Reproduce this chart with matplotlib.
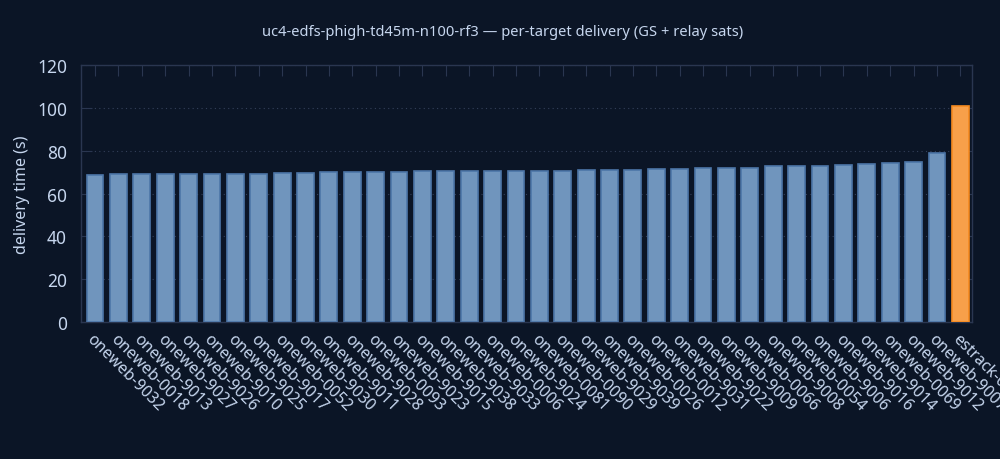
import numpy as np
import matplotlib
matplotlib.use("Agg")
import matplotlib.pyplot as plt

plt.rcParams['font.family'] = ['Noto Sans', 'DejaVu Sans']

# données
targets = ["oneweb-9032", "oneweb-0018", "oneweb-9013", "oneweb-9027", "oneweb-9026",
           "oneweb-9010", "oneweb-9025", "oneweb-9017", "oneweb-0052", "oneweb-9030",
           "oneweb-9011", "oneweb-9028", "oneweb-0093", "oneweb-9023", "oneweb-9015",
           "oneweb-9038", "oneweb-9033", "oneweb-0006", "oneweb-9024", "oneweb-0081",
           "oneweb-0090", "oneweb-9029", "oneweb-9039", "oneweb-0026", "oneweb-0012",
           "oneweb-9031", "oneweb-9022", "oneweb-9009", "oneweb-0066", "oneweb-9008",
           "oneweb-0054", "oneweb-9006", "oneweb-9016", "oneweb-9014", "oneweb-0069",
           "oneweb-9012", "oneweb-9007", "estrack-005"]
delivery_s = [68.5, 69.0, 69.0, 69.0, 69.0, 69.0, 69.0, 69.0, 69.4, 69.4,
              69.9, 69.9, 69.9, 69.9, 70.4, 70.4, 70.4, 70.4, 70.4, 70.4,
              70.4, 70.8, 70.8, 70.8, 71.3, 71.3, 71.8, 71.8, 71.8, 72.7,
              72.7, 72.7, 73.2, 73.6, 74.1, 74.6, 79.2, 101.1]
is_ground = [t.startswith("estrack") for t in targets]

bg = "#0b1526"
frame = "#2a3650"
txt = "#c6d6ee"

fig = plt.figure(figsize=(10, 4.6), dpi=100, facecolor=bg)
ax = fig.add_axes([0.081, 0.298, 0.891, 0.558])
ax.set_facecolor(bg)

x = np.arange(len(targets))
fills = ["#f7a04a" if g else "#7095bd" for g in is_ground]
edges = ["#f58a1f" if g else "#4d76a8" for g in is_ground]
ax.bar(x, delivery_s, width=0.72, color=fills, edgecolor=edges, linewidth=1.2, zorder=3)

ax.set_xlim(-0.6, len(targets) - 0.5)
ax.set_ylim(0, 120)
ax.set_yticks(np.arange(0, 121, 20))
ax.set_xticks(x)
ax.set_xticklabels(targets, rotation=-45, ha="left", va="top", rotation_mode="anchor")

ax.yaxis.grid(True, color="#34405a", linestyle=(0, (1, 3)), linewidth=0.8, zorder=0)
for s in ax.spines.values():
    s.set_color(frame)
    s.set_linewidth(1.0)
ax.tick_params(axis="both", which="both", direction="in", length=8, color=frame,
               top=True, right=True, labelcolor=txt)
ax.tick_params(axis="x", pad=6, labelsize=11.5)
ax.tick_params(axis="y", pad=10, labelsize=12.5)

ax.set_ylabel("delivery time (s)", color=txt, fontsize=11.5, labelpad=5)
fig.text(0.503, 0.93, "uc4-edfs-phigh-td45m-n100-rf3 \u2014 per-target delivery (GS + relay sats)",
         ha="center", va="center", color=txt, fontsize=10.6)

fig.savefig("out.png", dpi=100, facecolor=bg)
